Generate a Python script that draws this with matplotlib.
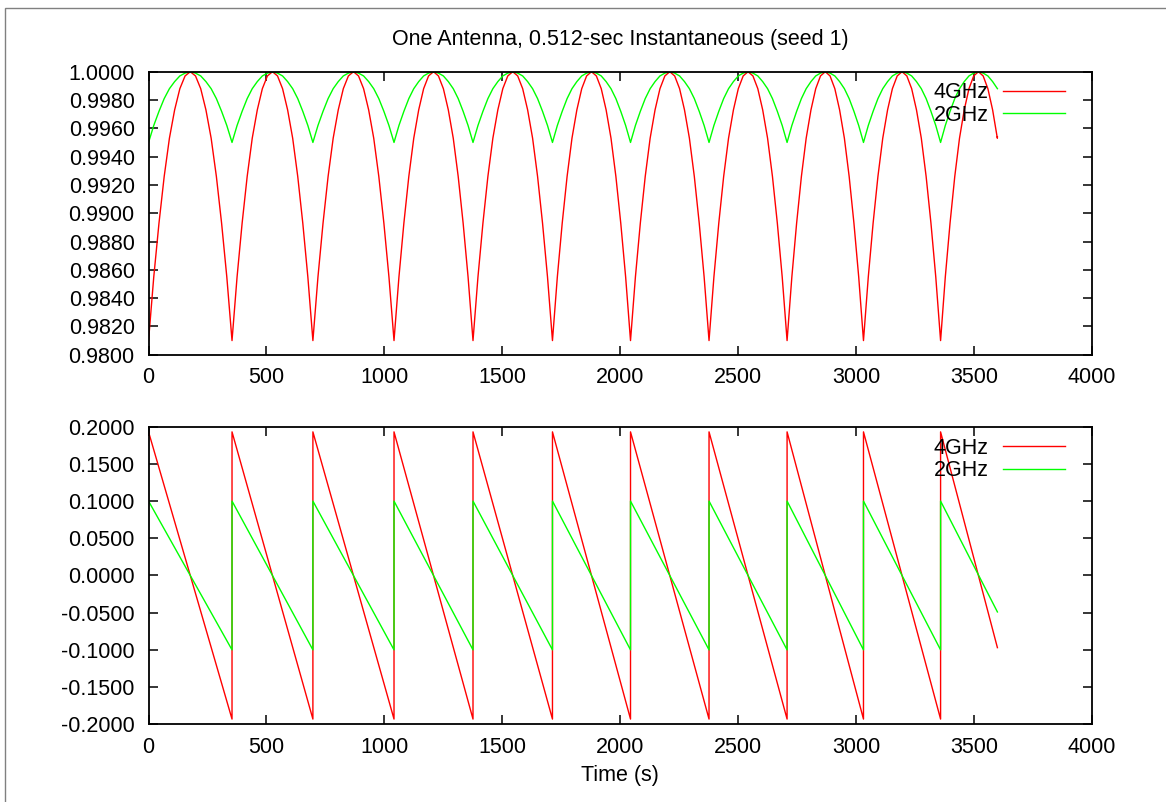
import matplotlib
matplotlib.use("Agg")
import matplotlib.pyplot as plt
from matplotlib.patches import Rectangle
from matplotlib.ticker import MultipleLocator, FormatStrFormatter

plt.rcParams['font.family'] = ['Liberation Sans', 'DejaVu Sans']
plt.rcParams['font.size'] = 15.5
plt.rcParams['axes.unicode_minus'] = False

# start of each phase cycle (s); the last cycle runs past the end of the record
cycle_start = [0, 354, 697, 1041, 1376, 1713, 2044, 2377, 2708, 3032, 3359, 3680]
t_end = 3600

# phase error (rad) at the start / end of every cycle, and at t_end
phase_4ghz = [0.193, -0.193]
phase_2ghz = [0.100, -0.100]
phase_end_4ghz = -0.097
phase_end_2ghz = -0.049

# shape of one cycle of the correlation amplitude, 17 samples from wrap to wrap
amp_4ghz_cycle = [0.9810, 0.9855, 0.9893, 0.9926, 0.9953, 0.9973, 0.9988, 0.9997, 1.0000,
                  0.9997, 0.9988, 0.9973, 0.9953, 0.9926, 0.9893, 0.9855, 0.9810]
amp_2ghz_cycle = [0.9950, 0.9962, 0.9972, 0.9981, 0.9988, 0.9993, 0.9997, 0.9999, 1.0000,
                  0.9999, 0.9997, 0.9993, 0.9988, 0.9981, 0.9972, 0.9962, 0.9950]
amp_end_4ghz = 0.9954
amp_end_2ghz = 0.9988

labels = ['4GHz', '2GHz']
colors = ['#ff0000', '#00ff00']


def sawtooth(hi_lo, end_val):
    ts, vs = [], []
    for i in range(len(cycle_start) - 2):
        ts += [cycle_start[i], cycle_start[i + 1]]
        vs += [hi_lo[0], hi_lo[1]]
    ts += [cycle_start[-2], t_end]
    vs += [hi_lo[0], end_val]
    return ts, vs


def arcs(cycle, end_val):
    n = len(cycle) - 1
    ts, vs = [], []
    for i in range(len(cycle_start) - 1):
        a, b = cycle_start[i], cycle_start[i + 1]
        for k, v in enumerate(cycle):
            t = a + (b - a) * k / n
            if t <= t_end:
                ts.append(t)
                vs.append(v)
    ts.append(t_end)
    vs.append(end_val)
    return ts, vs


fig = plt.figure(figsize=(11.66, 8.02), dpi=100)
ax1 = fig.add_axes([0.1274, 0.5577, 0.8089, 0.3529])
ax2 = fig.add_axes([0.1274, 0.0969, 0.8089, 0.3711])

for (c4, c2, e4, e2), ax, ylim, step in [
        ((amp_4ghz_cycle, amp_2ghz_cycle, amp_end_4ghz, amp_end_2ghz), ax1, (0.98, 1.0), 0.002),
        ((phase_4ghz, phase_2ghz, phase_end_4ghz, phase_end_2ghz), ax2, (-0.2, 0.2), 0.05)]:
    build = arcs if ax is ax1 else sawtooth
    for data, end, lab, col in [(c4, e4, labels[0], colors[0]), (c2, e2, labels[1], colors[1])]:
        t, v = build(data, end)
        ax.plot(t, v, color=col, lw=1.0, label=lab)
    ax.set_xlim(0, 4000)
    ax.set_ylim(*ylim)
    ax.xaxis.set_major_locator(MultipleLocator(500))
    ax.yaxis.set_major_locator(MultipleLocator(step))
    ax.yaxis.set_major_formatter(FormatStrFormatter('%.4f'))
    ax.tick_params(direction='in', length=6.5, width=1.1, top=True, right=True,
                   labelsize=15.5)
    ax.tick_params(axis='y', pad=10)
    ax.tick_params(axis='x', pad=9)
    for s in ax.spines.values():
        s.set_linewidth(1.3)
    ax.legend(loc='upper right', bbox_to_anchor=(0.972, 0.962), frameon=False,
              markerfirst=False, handlelength=2.9, handletextpad=0.65,
              labelspacing=0.05, borderpad=0, borderaxespad=0, fontsize=15.5)

fig.text(0.532, 1 - 40 / 802, 'One Antenna, 0.512-sec Instantaneous (seed 1)',
         ha='center', va='center', fontsize=15.5)
fig.text(0.532, 1 - 775 / 802, 'Time (s)', ha='center', va='center', fontsize=15.5)

fig.add_artist(Rectangle((5 / 1166, -0.1), 1.2, 1.1 - 7.5 / 802, transform=fig.transFigure,
                         fill=False, ec='#808080', lw=1.0))

fig.savefig('out.png', dpi=100)
